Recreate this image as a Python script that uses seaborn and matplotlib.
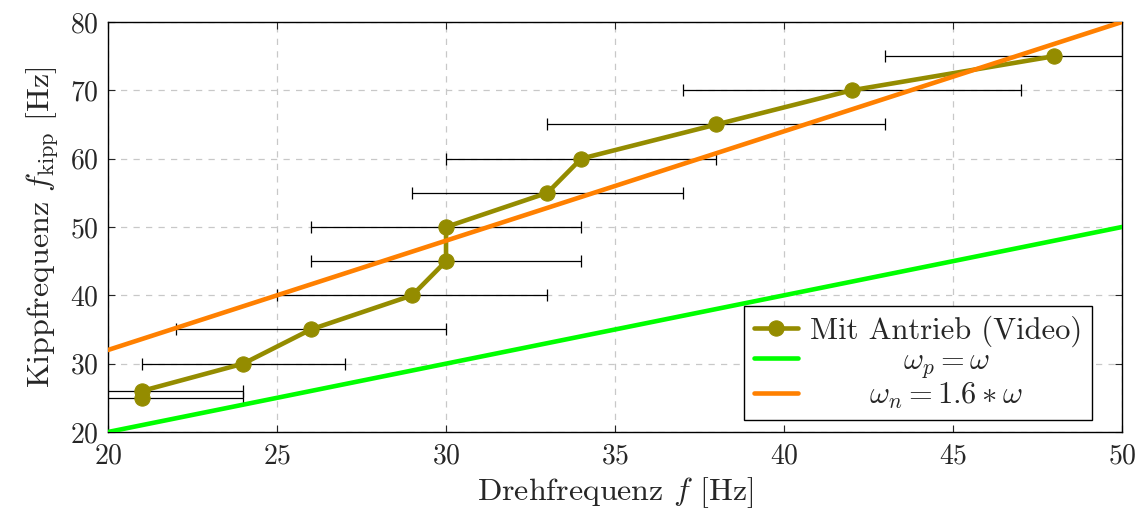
import numpy as np
import pandas as pd
import matplotlib
matplotlib.use("Agg")
import matplotlib.pyplot as plt
import seaborn as sns

drehfrequenz = [21, 21, 24, 26, 29, 30, 30, 33, 34, 38, 42, 48]
kippfrequenz = [25, 26, 30, 35, 40, 45, 50, 55, 60, 65, 70, 75]
x_fehler = [3, 3, 3, 4, 4, 4, 4, 4, 4, 5, 5, 5]

# Theoriegeraden
f_theorie = [20, 50]
omega_p = [20, 50]
omega_n = [32, 80]

df = pd.DataFrame({'f': drehfrequenz, 'fkipp': kippfrequenz})
df_p = pd.DataFrame({'f': f_theorie, 'w': omega_p})
df_n = pd.DataFrame({'f': f_theorie, 'w': omega_n})

sns.set_style("ticks")
plt.rcParams['font.family'] = ['cmr10']
plt.rcParams['mathtext.fontset'] = 'cm'
plt.rcParams['axes.formatter.use_mathtext'] = True

olive = '#948c00'
green = '#00ff00'
orange = '#ff8000'

fig = plt.figure(figsize=(11.42, 5.16), dpi=100)
ax = fig.add_axes([0.0946, 0.1628, 0.8879, 0.7946])

ax.errorbar(drehfrequenz, kippfrequenz, xerr=x_fehler, fmt='none',
            ecolor='black', elinewidth=0.9, capsize=4, capthick=0.9, zorder=2)
sns.lineplot(data=df, x='f', y='fkipp', sort=False, estimator=None,
             color=olive, linewidth=3.3, marker='o', markersize=11,
             markeredgecolor=olive, label='Mit Antrieb (Video)', ax=ax, zorder=3)
sns.lineplot(data=df_p, x='f', y='w', color=green, linewidth=3.3,
             label=r'$\omega_p = \omega$', ax=ax, zorder=4)
sns.lineplot(data=df_n, x='f', y='w', color=orange, linewidth=3.3,
             label=r'$\omega_n = 1.6 * \omega$', ax=ax, zorder=5)

ax.set_xlim(20, 50)
ax.set_ylim(20, 80)
ax.set_xticks(range(20, 51, 5))
ax.set_yticks(range(20, 81, 10))
ax.grid(True, color='#c8c8c8', linestyle=(0, (5, 5)), linewidth=0.9)
ax.tick_params(direction='in', top=True, right=True, labelsize=20, length=5)
ax.tick_params(axis='x', pad=8)
ax.tick_params(axis='y', pad=7)
for s in ax.spines.values():
    s.set_linewidth(1.0)
    s.set_color('black')

ax.set_xlabel(r'Drehfrequenz $f$ [Hz]', fontsize=23, labelpad=4)
ax.set_ylabel(r'Kippfrequenz $f_{\mathrm{kipp}}$ [Hz]', fontsize=23, labelpad=6)

leg = ax.legend(loc='lower right', bbox_to_anchor=(0.970, 0.029), fontsize=22,
                frameon=True, fancybox=False, edgecolor='black', framealpha=1,
                handlelength=1.45, borderpad=0.3, labelspacing=0.02,
                handletextpad=0.4, borderaxespad=0)
leg.get_frame().set_linewidth(1.0)

# Legendentexte zentrieren (wie in pgfplots)
fig.canvas.draw()
r = fig.canvas.get_renderer()
texts = leg.get_texts()
widths = [t.get_window_extent(r).width for t in texts]
wmax = max(widths)
for t, w in zip(texts, widths):
    t.set_x((wmax - w) / 2)

plt.savefig('out.png', dpi=100)
